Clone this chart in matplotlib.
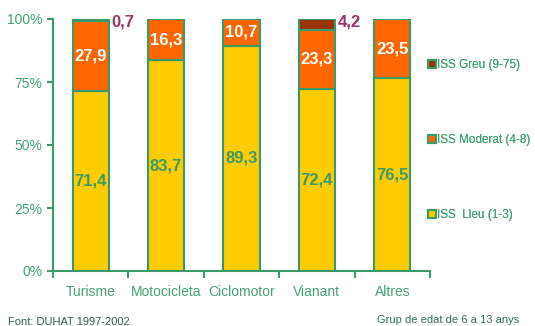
import numpy as np
import matplotlib.pyplot as plt
from matplotlib.lines import Line2D

plt.rcParams['font.family'] = ['Liberation Sans', 'DejaVu Sans']

# ISS distribution by vehicle type, ages 6-13
categories = ['Turisme', 'Motocicleta', 'Ciclomotor', 'Vianant', 'Altres']
lleu = [71.4, 83.7, 89.3, 72.4, 76.5]
moderat = [27.9, 16.3, 10.7, 23.3, 23.5]
greu = [0.7, 0.0, 0.0, 4.2, 0.0]
series_names = ['ISS Greu (9-75)', 'ISS Moderat (4-8)', 'ISS  Lleu (1-3)']

green = '#3a9a6a'
text_green = '#45a274'
yellow = '#ffcc00'
orange = '#ff6600'
brown = '#993300'
purple = '#993366'

fig = plt.figure(figsize=(5.35, 3.26), dpi=100)
ax = fig.add_axes([53 / 535, 55 / 326, 377 / 535, 252 / 326])

x = np.arange(len(categories))
w = 0.48
lleu = np.array(lleu)
moderat = np.array(moderat)
greu = np.array(greu)

ax.bar(x, lleu, w, color=yellow, edgecolor=green, linewidth=1.5)
ax.bar(x, moderat, w, bottom=lleu, color=orange, edgecolor=green, linewidth=1.5)
ax.bar(x, greu, w, bottom=lleu + moderat, color=brown, edgecolor=green, linewidth=1.5)

for i in range(len(categories)):
    ax.text(x[i], lleu[i] / 2, f'{lleu[i]:.1f}'.replace('.', ','),
            ha='center', va='center', color=green, fontsize=12, fontweight='bold')
    ax.text(x[i], lleu[i] + moderat[i] / 2, f'{moderat[i]:.1f}'.replace('.', ','),
            ha='center', va='center', color='white', fontsize=12, fontweight='bold')
    if greu[i] > 0:
        ax.text(x[i] + w / 2 + 0.03, lleu[i] + moderat[i] + greu[i] - 1,
                f'{greu[i]:.1f}'.replace('.', ','),
                ha='left', va='center', color=purple, fontsize=12, fontweight='bold')

ax.set_xlim(-0.5, len(categories) - 0.5)
ax.set_ylim(0, 100)
ax.set_yticks([0, 25, 50, 75, 100])
ax.set_yticklabels(['0%', '25%', '50%', '75%', '100%'])
ax.set_xticks(x)
ax.set_xticklabels(categories)
ax.set_xticks(np.arange(len(categories) + 1) - 0.5, minor=True)
ax.tick_params(axis='x', which='major', length=0, pad=10, labelsize=10, labelcolor=text_green)
ax.tick_params(axis='x', which='minor', length=5, width=1.5, color=green, direction='out')
ax.tick_params(axis='y', length=4, width=1.5, color=green, labelsize=10, labelcolor=text_green)
for s in ['top', 'right']:
    ax.spines[s].set_visible(False)
for s in ['left', 'bottom']:
    ax.spines[s].set_color(green)
    ax.spines[s].set_linewidth(1.5)

handles = [Line2D([], [], marker='s', linestyle='', markersize=6,
                  markerfacecolor=c, markeredgecolor=green, markeredgewidth=1.5)
           for c in [brown, orange, yellow]]
for h, name, yy in zip(handles, series_names, [65, 140, 215]):
    leg = fig.legend([h], [name], loc='center left',
                     bbox_to_anchor=(418 / 535, 1 - yy / 326),
                     frameon=False, fontsize=8.5, handlelength=0.5,
                     handletextpad=0.25, labelcolor=text_green)
    fig.add_artist(leg)

fig.text(8 / 535, 1 - 322 / 326, 'Font: DUHAT 1997-2002', fontsize=8,
         color='#2f5f4f', va='center')
fig.text(377 / 535, 1 - 320 / 326, 'Grup de edat de 6 a 13 anys', fontsize=8,
         color='#2f6f50', va='center')

fig.savefig('out.png', dpi=100)
